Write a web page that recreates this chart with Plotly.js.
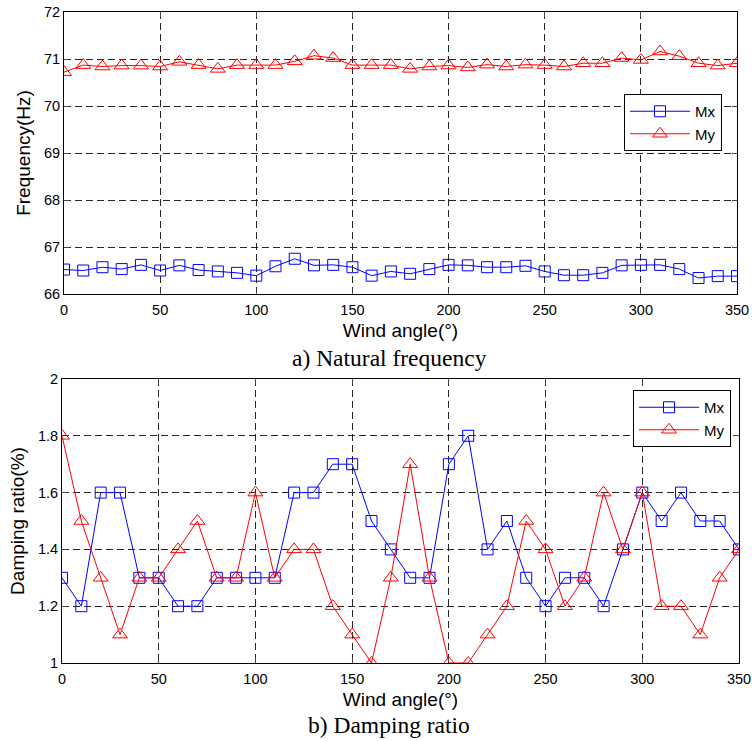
<!DOCTYPE html>
<html>
<head>
<meta charset="utf-8">
<script src="https://cdn.plot.ly/plotly-3.0.1.min.js"></script>
<style>html,body{margin:0;padding:0;background:#fff;}#chart{width:752px;height:741px;}</style>
</head>
<body>
<div id="chart"></div>
<script>
const windAngle = [0,10,20,30,40,50,60,70,80,90,100,110,120,130,140,150,160,170,180,190,200,210,220,230,240,250,260,270,280,290,300,310,320,330,340,350];
const freqMx = [66.52,66.50,66.57,66.53,66.62,66.50,66.61,66.51,66.48,66.45,66.39,66.59,66.75,66.61,66.62,66.57,66.39,66.48,66.43,66.53,66.62,66.61,66.57,66.57,66.60,66.48,66.40,66.40,66.45,66.61,66.62,66.62,66.53,66.34,66.38,66.38];
const freqMy = [70.72,70.87,70.84,70.86,70.86,70.84,70.94,70.87,70.79,70.87,70.87,70.87,70.95,71.07,71.02,70.87,70.87,70.87,70.79,70.84,70.86,70.82,70.88,70.84,70.88,70.87,70.84,70.91,70.91,71.02,70.98,71.16,71.06,70.91,70.86,70.91];
const dampMx = [1.3,1.2,1.6,1.6,1.3,1.3,1.2,1.2,1.3,1.3,1.3,1.3,1.6,1.6,1.7,1.7,1.5,1.4,1.3,1.3,1.7,1.8,1.4,1.5,1.3,1.2,1.3,1.3,1.2,1.4,1.6,1.5,1.6,1.5,1.5,1.4];
const dampMy = [1.8,1.5,1.3,1.1,1.3,1.3,1.4,1.5,1.3,1.3,1.6,1.3,1.4,1.4,1.2,1.1,1.0,1.3,1.7,1.3,1.0,1.0,1.1,1.2,1.5,1.4,1.2,1.3,1.6,1.4,1.6,1.2,1.2,1.1,1.3,1.4];
const seriesNames = ['Mx','My'];
const xTicks = [0,50,100,150,200,250,300,350];
const freqTicks = [66,67,68,69,70,71,72];
const dampTicks = [1,1.2,1.4,1.6,1.8,2];
const xTitle = 'Wind angle(°)';
const freqTitle = 'Frequency(Hz)';
const dampTitle = 'Damping ratio(%)';
const captionA = 'a) Natural frequency';
const captionB = 'b) Damping ratio';

const W = 752, H = 741;
const px = v => v / W;
const py = v => 1 - v / H;

const blue = '#0000ff', red = '#ff0000';
function mk(y, name, color, sym, xa, ya, leg) {
  return {x: windAngle, y: y, name: name, type: 'scatter', mode: 'lines+markers',
    xaxis: xa, yaxis: ya, legend: leg,
    line: {color: color, width: 1},
    marker: {symbol: sym, size: sym.indexOf('square') === 0 ? 11 : 13, color: color, line: {color: color, width: 1}}};
}
const data = [
  mk(freqMx, seriesNames[0], blue, 'square-open', 'x', 'y', 'legend'),
  mk(freqMy, seriesNames[1], red, 'triangle-up-open', 'x', 'y', 'legend'),
  mk(dampMx, seriesNames[0], blue, 'square-open', 'x2', 'y2', 'legend2'),
  mk(dampMy, seriesNames[1], red, 'triangle-up-open', 'x2', 'y2', 'legend2')
];

const sans = 'Liberation Sans, Arial, sans-serif';
const tickFont = {family: sans, size: 14.5, color: '#000'};
const titleFont = {family: sans, size: 19, color: '#000'};
const gridDash = '7px,4px';
function xax(domain, anchor) {
  return {domain: domain, anchor: anchor, range: [0, 350], tickvals: xTicks, ticks: 'inside', ticklen: 5,
    showline: true, linecolor: '#000', linewidth: 1, mirror: 'ticks', zeroline: false,
    showgrid: true, gridcolor: '#262626', griddash: gridDash, gridwidth: 1, tickfont: tickFont,
    ticklabelstandoff: 3,
    title: {text: xTitle, font: titleFont, standoff: 6}};
}
function yax(domain, anchor, range, tv, title) {
  return {domain: domain, anchor: anchor, range: range, tickvals: tv, ticks: 'inside', ticklen: 5,
    showline: true, linecolor: '#000', linewidth: 1, mirror: 'ticks', zeroline: false,
    showgrid: true, gridcolor: '#262626', griddash: gridDash, gridwidth: 1, tickfont: tickFont,
    title: {text: title, font: titleFont, standoff: 8}};
}
const legStyle = (x, y) => ({x: x, y: y, xanchor: 'right', yanchor: 'top', bgcolor: '#fff',
  bordercolor: '#000', borderwidth: 1, font: {family: sans, size: 15, color: '#000'},
  itemwidth: 60, tracegroupgap: 0});

const layout = {
  width: W, height: H, margin: {l: 0, r: 0, t: 0, b: 0}, paper_bgcolor: '#fff', plot_bgcolor: '#fff',
  xaxis: xax([px(64), px(737)], 'y'),
  yaxis: yax([py(294), py(12)], 'x', [66, 72], freqTicks, freqTitle),
  xaxis2: xax([px(62), px(739)], 'y2'),
  yaxis2: yax([py(663), py(379)], 'x2', [1, 2], dampTicks, dampTitle),
  legend: legStyle(px(722), py(94)),
  legend2: legStyle(px(731), py(390)),
  annotations: [
    {text: captionA, xref: 'paper', yref: 'paper', x: px(389), y: py(358), xanchor: 'center', yanchor: 'middle', showarrow: false,
      font: {family: 'Liberation Serif, Times New Roman, serif', size: 23.5, color: '#000'}},
    {text: captionB, xref: 'paper', yref: 'paper', x: px(389), y: py(725), xanchor: 'center', yanchor: 'middle', showarrow: false,
      font: {family: 'Liberation Serif, Times New Roman, serif', size: 23.5, color: '#000'}}
  ]
};
Plotly.newPlot('chart', data, layout, {displayModeBar: false, staticPlot: true});
</script>
</body>
</html>
